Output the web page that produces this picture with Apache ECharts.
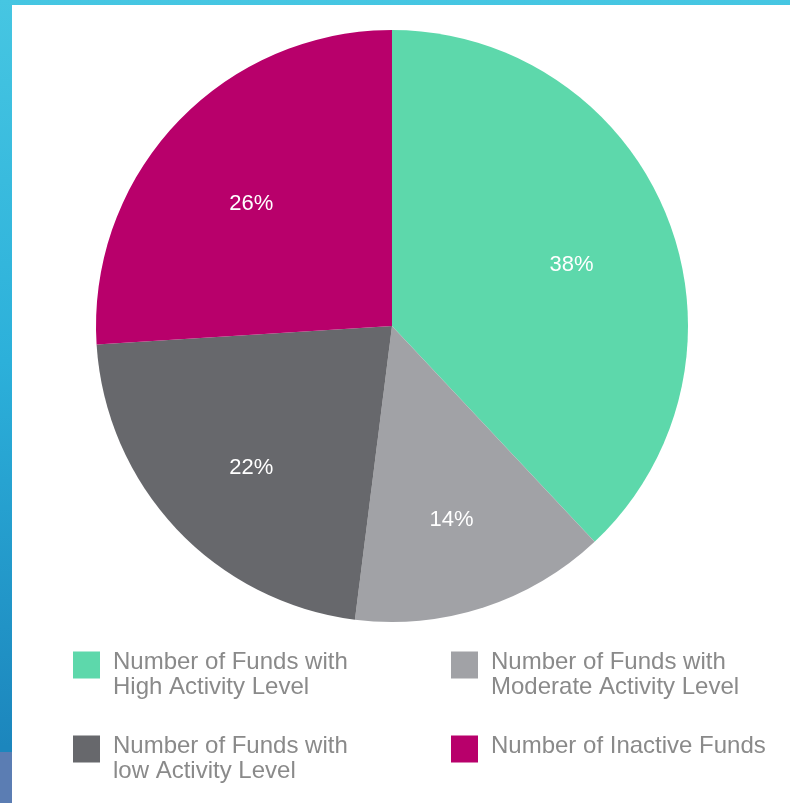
<html>
    <head>
        <meta charset="utf-8">
        <script src="https://cdn.jsdelivr.net/npm/echarts@6/dist/echarts.min.js"></script>
    </head>
    <body>
        <style>
            html, body {
                width: 100%;
                height: 100%;
                margin: 0;
                overflow: hidden;
                background: linear-gradient(to bottom, #46c6e2 0%, #2cb0da 45%, #1c86bd 93%);
            }
            #foot {
                position: absolute;
                left: 0;
                top: 752px;
                width: 12px;
                height: 51px;
                background: #5b7db3;
            }
            #card {
                position: absolute;
                left: 12px;
                top: 5px;
                right: 0;
                bottom: 0;
                background: #fff;
            }
            #main {
                position: absolute;
                left: 0;
                top: 0;
                width: 790px;
                height: 803px;
            }
        </style>
        <div id="foot"></div>
        <div id="card"></div>
        <div id="main"></div>
        <script>

        var names = [
            'Number of Funds with\nHigh Activity Level',
            'Number of Funds with\nModerate Activity Level',
            'Number of Funds with\nlow Activity Level',
            'Number of Inactive Funds'
        ];
        var values = [38, 14, 22, 26];
        var colors = ['#5dd8ab', '#a1a2a6', '#67686c', '#b8006b'];

        var chart = echarts.init(document.getElementById('main'));

        var pieData = names.map(function (n, i) {
            return { name: n, value: values[i], itemStyle: { color: colors[i] } };
        });
        var ghostData = names.map(function (n, i) {
            return { name: n, value: values[i] };
        });

        // square icon sitting at the top of a taller item box
        var icon = 'path://M0,0H27V27H0Z M0,47H0.01V47Z';
        var legendText = {
            color: '#8a8a8a',
            fontSize: 24,
            lineHeight: 25,
            fontFamily: 'Liberation Sans, Arial, sans-serif',
            padding: [0, 0, 0, 8]
        };
        // one-line names get an empty second line so every item lines up the same
        function legendFormatter(name) {
            return name.indexOf('\n') < 0 ? name + '\n ' : name;
        }

        chart.setOption({
            animation: false,
            legend: [
                {
                    orient: 'vertical',
                    left: 73,
                    top: 650,
                    padding: 0,
                    itemWidth: 27,
                    itemHeight: 47,
                    itemGap: 34,
                    icon: icon,
                    selectedMode: false,
                    formatter: legendFormatter,
                    textStyle: legendText,
                    data: [names[0], names[2]]
                },
                {
                    orient: 'vertical',
                    left: 451,
                    top: 650,
                    padding: 0,
                    itemWidth: 27,
                    itemHeight: 47,
                    itemGap: 34,
                    icon: icon,
                    selectedMode: false,
                    formatter: legendFormatter,
                    textStyle: legendText,
                    data: [names[1], names[3]]
                }
            ],
            series: [
                {
                    type: 'pie',
                    center: [392, 326],
                    radius: [0, 296],
                    startAngle: 90,
                    label: { show: false },
                    labelLine: { show: false },
                    emphasis: { disabled: true },
                    data: pieData
                },
                {
                    // transparent copy that only places the percent labels
                    type: 'pie',
                    center: [392, 336],
                    radius: [84, 296],
                    startAngle: 90,
                    silent: true,
                    itemStyle: { color: 'rgba(0,0,0,0)' },
                    label: {
                        show: true,
                        position: 'inside',
                        formatter: '{c}%',
                        color: '#fff',
                        fontSize: 22,
                        fontFamily: 'Liberation Sans, Arial, sans-serif'
                    },
                    labelLine: { show: false },
                    data: ghostData
                }
            ]
        });

        </script>
    </body>
</html>
